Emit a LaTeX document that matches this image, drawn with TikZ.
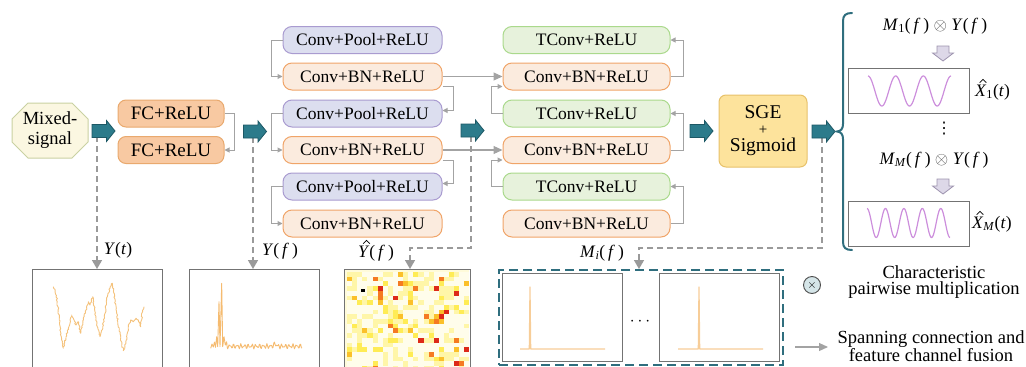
\documentclass[tikz,border=0pt]{standalone}
\usepackage{fontspec}
\setmainfont{Liberation Serif}
\newfontfamily\symfont{DejaVu Sans}
\usetikzlibrary{arrows.meta,shapes.misc,decorations.pathmorphing,calc}

\definecolor{tealA}{HTML}{2C7B8B}
\definecolor{tealB}{HTML}{1D5865}
\definecolor{braceC}{HTML}{2F6E7E}
\definecolor{lineC}{HTML}{A3A3A3}
\definecolor{dashC}{HTML}{9A9A9A}
\definecolor{fcF}{HTML}{F8C9A2}\definecolor{fcD}{HTML}{E9A96E}
\definecolor{poolF}{HTML}{DCDEEF}\definecolor{poolD}{HTML}{A99BD0}
\definecolor{bnF}{HTML}{FBEBDE}\definecolor{bnD}{HTML}{F0A468}
\definecolor{tcF}{HTML}{E7F2DC}\definecolor{tcD}{HTML}{AAD98C}
\definecolor{sgeF}{HTML}{FDE39C}\definecolor{sgeD}{HTML}{E7C16A}
\definecolor{mixF}{HTML}{FBF7E1}\definecolor{mixD}{HTML}{C9D1A2}
\definecolor{sigC}{HTML}{F4C27C}
\definecolor{peakC}{HTML}{F7CD98}
\definecolor{waveC}{HTML}{CC8EDC}
\definecolor{downF}{HTML}{DDD8E8}\definecolor{downD}{HTML}{9D93AE}
\definecolor{hmBG}{HTML}{FFFBDA}
\definecolor{hmA}{HTML}{FFFDEB}
\definecolor{hmB}{HTML}{FFF6A8}
\definecolor{hmC}{HTML}{FFEC55}
\definecolor{hmD}{HTML}{FBC02A}
\definecolor{hmE}{HTML}{F57A22}
\definecolor{hmF}{HTML}{DD2A18}

\newcommand\blockright[3]{% name, x, y : teal block arrow pointing right
  \begin{scope}[shift={(#2,#3)}]
    \filldraw[fill=tealA,draw=tealB,line width=0.8pt,line join=miter]
      (-11.5,-6.5) -- (3,-6.5) -- (3,-10.5) -- (11.5,0) -- (3,10.5) -- (3,6.5) -- (-11.5,6.5) -- cycle;
    \coordinate (#1) at (0,0);
  \end{scope}}
\newcommand\blockdown[3]{% name, x, y(top) : small pale arrow pointing down
  \begin{scope}[shift={(#2,#3)}]
    \filldraw[fill=downF,draw=downD,line width=0.8pt,line join=miter]
      (-6,0) -- (6,0) -- (6,7) -- (10.5,7) -- (0,15) -- (-10.5,7) -- (-6,7) -- cycle;
    \coordinate (#1) at (0,0);
  \end{scope}}
\newcommand\hatmark[2]{% circumflex drawn above a letter, centred at (x,y)
  \draw[line width=0.8pt,line join=miter] (#1-3.3,#2+2.6) -- (#1,#2-0.6) -- (#1+3.3,#2+2.6);}

\begin{document}
\begin{tikzpicture}[x=1pt,y=-1pt,
  boxfont/.style={font=\fontsize{17.5}{19}\selectfont},
  blk/.style={boxfont,inner sep=0pt,line width=1pt,rounded corners=9pt,minimum height=27pt},
  fcbox/.style={blk,fill=fcF,draw=fcD,minimum width=106pt,rounded corners=8pt,font=\fontsize{19}{20}\selectfont},
  poolbox/.style={blk,fill=poolF,draw=poolD,minimum width=159pt},
  bnbox/.style={blk,fill=bnF,draw=bnD,minimum width=159pt},
  rbnbox/.style={blk,fill=bnF,draw=bnD,minimum width=167pt},
  tcbox/.style={blk,fill=tcF,draw=tcD,minimum width=167pt},
  link/.style={draw=lineC,line width=1pt,-{Triangle[length=5pt,width=5pt]}},
  skiplink/.style={draw=lineC,line width=1.1pt,-{Triangle[length=9pt,width=8pt]}},
  dlink/.style={draw=dashC,line width=1.5pt,dash pattern=on 6pt off 4pt,-{Triangle[length=9pt,width=10pt]}},
  plotbox/.style={draw=black!55,line width=1pt,inner sep=0pt,anchor=north west},
  lab/.style={inner sep=0pt,font=\fontsize{17.5}{19}\selectfont},
  legend/.style={inner sep=0pt,align=center,font=\fontsize{18.5}{16.5}\selectfont}
]
\useasboundingbox (0,0) rectangle (1026,367);

% ---------- input ----------
\node[chamfered rectangle,chamfered rectangle xsep=8pt,chamfered rectangle ysep=8pt,
      fill=mixF,draw=mixD,line width=1pt,inner sep=0pt,minimum width=76pt,minimum height=55pt,
      align=center,font=\fontsize{18.5}{20}\selectfont] (mix) at (50,130.5) {Mixed-\\signal};

% ---------- fully connected part ----------
\node[fcbox] (fc1) at (171,113.5) {FC+ReLU};
\node[fcbox] (fc2) at (171,150) {FC+ReLU};
\draw[link] (fc1.east) -- ++(10,0) |- (fc2.east);

% ---------- encoder column ----------
\node[poolbox] (lp1) at (362.5,40)    {Conv+Pool+ReLU};
\node[bnbox]   (lb1) at (362.5,76.5)  {Conv+BN+ReLU};
\node[poolbox] (lp2) at (362.5,113.5) {Conv+Pool+ReLU};
\node[bnbox]   (lb2) at (362.5,150)   {Conv+BN+ReLU};
\node[poolbox] (lp3) at (362.5,186.5) {Conv+Pool+ReLU};
\node[bnbox]   (lb3) at (362.5,223.5) {Conv+BN+ReLU};
\draw[link] (lp1.west) -- ++(-11,0) |- (lb1.west);
\draw[link] (lp2.west) -- ++(-11,0) |- (lb2.west);
\draw[link] (lp3.west) -- ++(-11,0) |- (lb3.west);
\draw[link] ([yshift=-10pt]lb1.east) -- ++(11,0) |- ([yshift=3pt]lp2.east);
\draw[link] ([yshift=-10pt]lb2.east) -- ++(11,0) |- ([yshift=3pt]lp3.east);

% ---------- decoder column ----------
\node[tcbox]  (rt1) at (586.5,40)    {TConv+ReLU};
\node[rbnbox] (rb1) at (586.5,76.5)  {Conv+BN+ReLU};
\node[tcbox]  (rt2) at (586.5,113.5) {TConv+ReLU};
\node[rbnbox] (rb2) at (586.5,150)   {Conv+BN+ReLU};
\node[tcbox]  (rt3) at (586.5,186.5) {TConv+ReLU};
\node[rbnbox] (rb3) at (586.5,223.5) {Conv+BN+ReLU};
\draw[link] (rb1.east) -- ++(13,0) |- (rt1.east);
\draw[link] (rb2.east) -- ++(13,0) |- (rt2.east);
\draw[link] (rb3.east) -- ++(13,0) |- (rt3.east);
\draw[link] (rt2.west) -- ++(-11,0) |- ([yshift=-10pt]rb1.west);
\draw[link] (rt3.west) -- ++(-11,0) |- ([yshift=-10pt]rb2.west);

% skip connections
\draw[skiplink] (lb1.east) -- (rb1.west);
\draw[skiplink] (lb2.east) -- (rb2.west);

% ---------- attention ----------
\node[fill=sgeF,draw=sgeD,line width=1pt,rounded corners=7pt,minimum width=88pt,minimum height=72pt,
      inner sep=0pt,align=center,font=\fontsize{19.5}{18}\selectfont] (sge) at (763,131)
      {SGE\\[-2pt]{\fontsize{15}{12}\selectfont +}\\[-1pt]Sigmoid};

% ---------- lower plots ----------
\node[plotbox,minimum width=130pt,minimum height=104pt] (p1) at (32,269) {};
\node[plotbox,minimum width=130pt,minimum height=104pt] (p2) at (189,269) {};
\node[plotbox,minimum width=126pt,minimum height=104pt] (p3) at (344,269) {};
\node[draw=braceC,line width=2.2pt,dash pattern=on 9pt off 5pt,inner sep=0pt,anchor=north west,
      minimum width=284pt,minimum height=95pt] (mbox) at (498,269) {};
\node[plotbox,minimum width=120pt,minimum height=88pt] (mi1) at (502,273) {};
\node[plotbox,minimum width=120pt,minimum height=88pt] (mi2) at (659,273) {};
\node[lab] (dots) at (640,322) {$\cdots$};

% time-domain mixture
\draw[sigC,line width=0.9pt,line join=round,
      decorate,decoration={random steps,segment length=1.5pt,amplitude=0.7pt}]
  (53.3,286.7) -- (55,289.3) -- (57.3,301.7) -- (59.3,320) -- (61.7,340) -- (63.3,348.3)
  -- (66,336.7) -- (68.3,328.3) -- (70,323.3) -- (71.7,315) -- (73.3,318.3) -- (76,325)
  -- (78.3,321.7) -- (80.7,333.3) -- (83.3,320) -- (86,310) -- (88.3,301.7) -- (90,305)
  -- (92.7,296.7) -- (95,311.7) -- (97.3,326.7) -- (100,336.7) -- (102.7,326.7) -- (105,313.3)
  -- (107.3,296.7) -- (110,288.3) -- (112.3,283.3) -- (114,293.3) -- (116.7,313.3) -- (119.3,330)
  -- (121.7,345) -- (123.3,350.7) -- (126,343.3) -- (128.3,326.7) -- (130.7,320) -- (133.3,321.7)
  -- (136,318.3) -- (138.3,320) -- (140.7,326.7) -- (142.7,310) -- (144,306.7);

% spectrum of the mixture
\draw[sigC!90!orange,line width=0.9pt,line join=round]
  (210.7,348.3) -- (212,344) -- (213.3,347) -- (214.5,342) -- (215.5,347.3) -- (216.7,336.7)
  -- (217.7,346.7) -- (219,301.7) -- (220,346.7) -- (221.7,283.3) -- (222.7,346.7) -- (224,336.7)
  -- (225.3,345) -- (226.7,341.7) -- (227,346);
\draw[sigC!90!orange,line width=0.9pt,line join=round]
  plot[domain=0:75,samples=110] ({227+\x},{346.3+1.6*sin(\x*97)+1.1*sin(\x*151)-2.5*max(0,1-abs(\x-48)/3)});

% heat map of the encoded spectrum
\begin{scope}
  \clip (345,270) rectangle (469,372);
  \fill[hmBG] (345,270) rectangle (469,372);
  \pgfmathsetseed{11}
  \foreach \i in {0,...,23}{
    \foreach \j in {0,...,20}{
      \pgfmathsetmacro\r{rnd}
      \ifdim\r pt<0.52pt \def\cc{hmA}\else
      \ifdim\r pt<0.79pt \def\cc{hmB}\else
      \ifdim\r pt<0.90pt \def\cc{hmC}\else
      \ifdim\r pt<0.95pt \def\cc{hmD}\else
      \ifdim\r pt<0.983pt \def\cc{hmE}\else
      \def\cc{hmF}\fi\fi\fi\fi\fi
      \fill[\cc] ({347+\i*5.1},{272+\j*4.7}) rectangle ++(5.1,4.7);
    }}
  \fill[black] (360.5,288.5) rectangle ++(4,3.5);
\end{scope}

% masks
\draw[peakC,line width=1.2pt,line join=round] (520,349) -- (529.3,349) -- (530,287) -- (530.7,349) -- (605,349);
\draw[peakC,line width=1.2pt,line join=round] (678,349) -- (698.3,349) -- (699,287) -- (699.7,349) -- (763,349);

% ---------- dashed taps ----------
\coordinate (t1) at (97,136);
\coordinate (t2) at (253,137);
\coordinate (t3) at (471,136);
\coordinate (t5) at (822,137);
\coordinate (k3) at (410,248);
\coordinate (k5) at (639,248);
\draw[dlink] (t1) -- (t1 |- p1.north);
\draw[dlink] (t2) -- (t2 |- p2.north);
\draw[dlink] (t3) |- (k3) -- (k3 |- p3.north);
\draw[dlink] (t5) |- (k5) -- (k5 |- mbox.north);

\node[lab] (ly1) at (118,250) {\textit{Y}(\textit{t})};
\node[lab] (ly2) at (280,251) {\textit{Y}(\,\textit{f}\,)};
\node[lab,anchor=base west] (ly3) at (358,257) {\textit{Y}(\,\textit{f}\,)};
\hatmark{366.5}{241}
\node[lab] (lm)  at (602,253) {\textit{M}\textsubscript{\textit{i}}(\,\textit{f}\,)};

% ---------- block arrows ----------
\blockright{a1}{103.5}{131}
\blockright{a2}{255}{131.5}
\blockright{a3}{472.5}{130.5}
\blockright{a4}{701.5}{131}
\blockright{a5}{823.5}{131.5}

% ---------- outputs ----------
\draw[braceC,line width=2pt,line cap=round]
  (852,13) .. controls (846,13) and (843,15) .. (843,21) -- (843,124)
  .. controls (843,129) and (841,131) .. (837,131.5)
  .. controls (841,132) and (843,134) .. (843,139) -- (843,242)
  .. controls (843,248) and (846,250) .. (852,250);

\node[lab] (e1) at (935,26) {\textit{M}\textsubscript{1}(\,\textit{f}\,) {\color{black!70}$\otimes$} \textit{Y}(\,\textit{f}\,)};
\blockdown{g1}{943}{46}
\node[draw=black!55,line width=1pt,inner sep=0pt,minimum width=121pt,minimum height=45pt] (o1) at (908.5,90.5) {};
\draw[waveC,line width=1.2pt] plot[domain=0:83,samples=140] ({868+\x},{91-15*cos(\x/83*1080)});
\node[lab,anchor=base west] (x1) at (975,96) {\textit{X}\textsubscript{1}(\textit{t})};
\hatmark{983}{80}

\node[inner sep=0pt,font=\symfont\fontsize{16}{16}\selectfont] (vd) at (944,129) {⋮};

\node[lab] (e2) at (934,160) {\textit{M}\textsubscript{\textit{M}}(\,\textit{f}\,) {\color{black!70}$\otimes$} \textit{Y}(\,\textit{f}\,)};
\blockdown{g2}{943}{179}
\node[draw=black!55,line width=1pt,inner sep=0pt,minimum width=121pt,minimum height=45pt] (o2) at (908.5,223.5) {};
\draw[waveC,line width=1.2pt] plot[domain=0:83,samples=160] ({867+\x},{223-14.5*cos(\x/83*1620)});
\node[lab,anchor=base west] (x2) at (972,228) {\textit{X}\textsubscript{\textit{M}}(\textit{t})};
\hatmark{980}{212}

% ---------- legend ----------
\node[circle,draw=black!70,fill=tealA!20,line width=0.9pt,inner sep=0pt,minimum size=17pt,
      font=\fontsize{13}{13}\selectfont] (otimes) at (812,285) {$\times$};
\node[legend] (lt1) at (934,282) {Characteristic\\pairwise multiplication};
\coordinate (la0) at (795,347);
\coordinate (la1) at (828,347);
\draw[skiplink] (la0) -- (la1);
\node[legend] (lt2) at (931,346) {Spanning connection and\\feature channel fusion};
\end{tikzpicture}
\end{document}
